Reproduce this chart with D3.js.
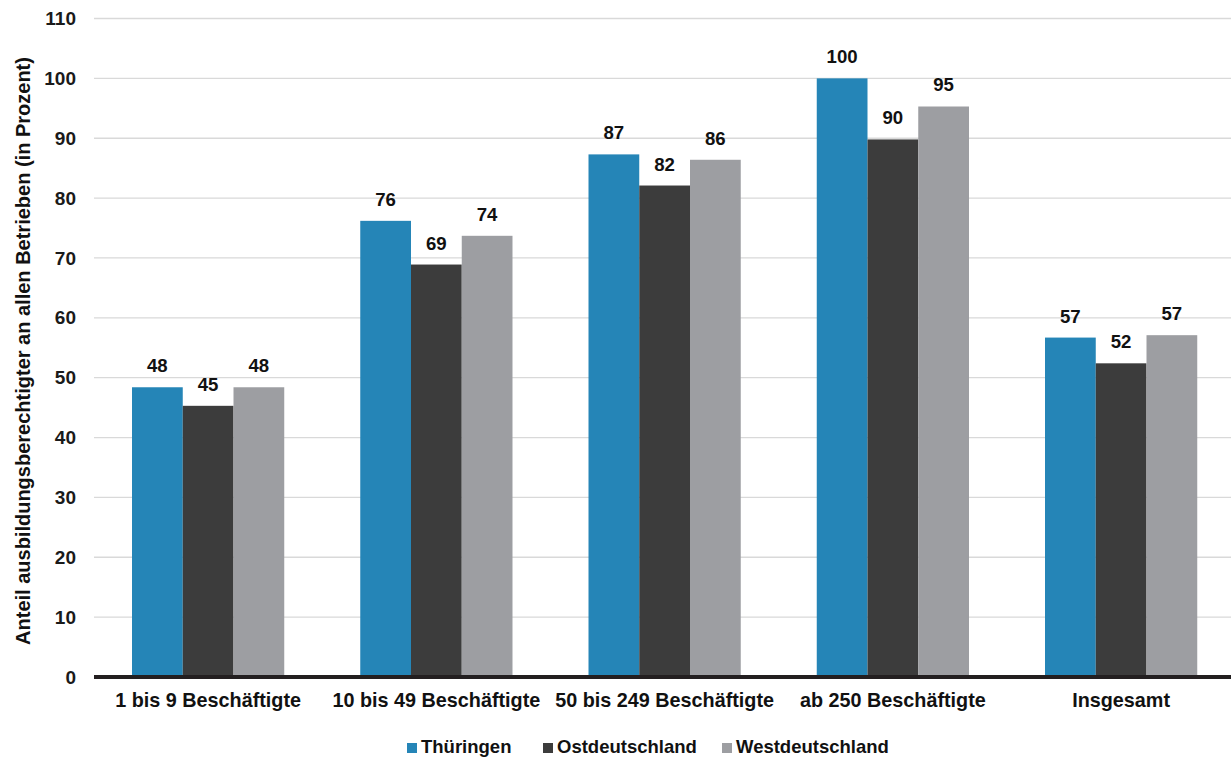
<!DOCTYPE html>
<html>
<head>
<meta charset="utf-8">
<script src="https://cdn.jsdelivr.net/npm/d3@7"></script>
<style>
  html, body { margin: 0; padding: 0; background: #fff; }
  svg { display: block; font-family: "Liberation Sans", Arial, sans-serif; font-weight: bold; }
</style>
</head>
<body>
<svg id="chart" width="1231" height="757"></svg>
<script>
// Betriebsgrößenklassen
const categories = ["1 bis 9 Beschäftigte", "10 bis 49 Beschäftigte", "50 bis 249 Beschäftigte", "ab 250 Beschäftigte", "Insgesamt"];
const seriesNames = ["Thüringen", "Ostdeutschland", "Westdeutschland"];
const seriesColors = ["#2585b7", "#3c3c3c", "#9d9ea2"];
// Anteil ausbildungsberechtigter Betriebe in Prozent
const thueringen = [48.4, 76.2, 87.3, 100.0, 56.7];
const ostdeutschland = [45.3, 68.9, 82.1, 89.8, 52.4];
const westdeutschland = [48.4, 73.7, 86.4, 95.3, 57.1];
const yTicks = [0, 10, 20, 30, 40, 50, 60, 70, 80, 90, 100, 110];
const yTitle = "Anteil ausbildungsberechtigter an allen Betrieben (in Prozent)";

const series = [thueringen, ostdeutschland, westdeutschland];

const svg = d3.select("#chart");
const margin = { left: 94, top: 18.5 };
const W = 1231;
const plotBottom = 677;

// Jede Gruppe sitzt mittig in einer Zelle von gut 228 px
const x0 = d3.scaleBand().domain(categories).range([margin.left, 1235.25]).paddingInner(0.333).paddingOuter(0.1665);
const x1 = d3.scaleBand().domain(seriesNames).range([0, x0.bandwidth()]);
const y = d3.scaleLinear().domain([0, 110]).range([plotBottom, margin.top]);

// Gitternetzlinien
svg.append("g").selectAll("line").data(yTicks.filter(t => t > 0)).join("line")
  .attr("x1", margin.left).attr("x2", W)
  .attr("y1", d => y(d)).attr("y2", d => y(d))
  .attr("stroke", "#d9d9d9").attr("stroke-width", 1.3);

// Y-Achse (nur Beschriftung)
const yAxis = svg.append("g").attr("transform", `translate(${margin.left},0)`)
  .call(d3.axisLeft(y).tickValues(yTicks).tickSize(0).tickPadding(18));
yAxis.select(".domain").remove();
yAxis.selectAll("text").attr("font-size", 19).attr("font-weight", "bold")
  .attr("font-family", "Liberation Sans, Arial, sans-serif").attr("fill", "#1a1a1a");

// Balken
const groups = svg.append("g").selectAll("g").data(categories).join("g")
  .attr("transform", d => `translate(${x0(d)},0)`);

groups.selectAll("rect").data((c, i) => seriesNames.map((s, j) => ({ s, j, v: series[j][i] }))).join("rect")
  .attr("x", d => x1(d.s)).attr("width", x1.bandwidth())
  .attr("y", d => y(d.v)).attr("height", d => y(0) - y(d.v))
  .attr("fill", d => seriesColors[d.j]);

// Werte über den Balken
const fmt = d3.format(".0f");
groups.selectAll("text.val").data((c, i) => seriesNames.map((s, j) => ({ s, j, v: series[j][i] }))).join("text")
  .attr("class", "val")
  .attr("x", d => x1(d.s) + x1.bandwidth() / 2)
  .attr("y", d => y(d.v) - 15)
  .attr("text-anchor", "middle").attr("font-size", 18.6).attr("fill", "#111")
  .text(d => fmt(d.v));

// X-Achse
svg.append("line").attr("x1", margin.left).attr("x2", W)
  .attr("y1", plotBottom).attr("y2", plotBottom)
  .attr("stroke", "#231f20").attr("stroke-width", 4);

const xAxis = svg.append("g").attr("transform", `translate(0,${plotBottom})`)
  .call(d3.axisBottom(x0).tickSize(0).tickPadding(16));
xAxis.select(".domain").remove();
xAxis.selectAll("text").attr("font-size", 19.8).attr("font-weight", "bold")
  .attr("font-family", "Liberation Sans, Arial, sans-serif").attr("fill", "#111");

// Achsentitel
svg.append("text")
  .attr("transform", `translate(30,351) rotate(-90)`)
  .attr("text-anchor", "middle").attr("font-size", 20).attr("fill", "#111")
  .text(yTitle);

// Legende
const legendX = [407, 543, 722];
const legend = svg.append("g").selectAll("g").data(seriesNames).join("g")
  .attr("transform", (d, i) => `translate(${legendX[i]},748)`);
legend.append("rect").attr("x", 0).attr("y", -5).attr("width", 10).attr("height", 10)
  .attr("fill", (d, i) => seriesColors[i]);
legend.append("text").attr("x", 14).attr("y", 5).attr("font-size", 18.5).attr("fill", "#111").text(d => d);
</script>
</body>
</html>
